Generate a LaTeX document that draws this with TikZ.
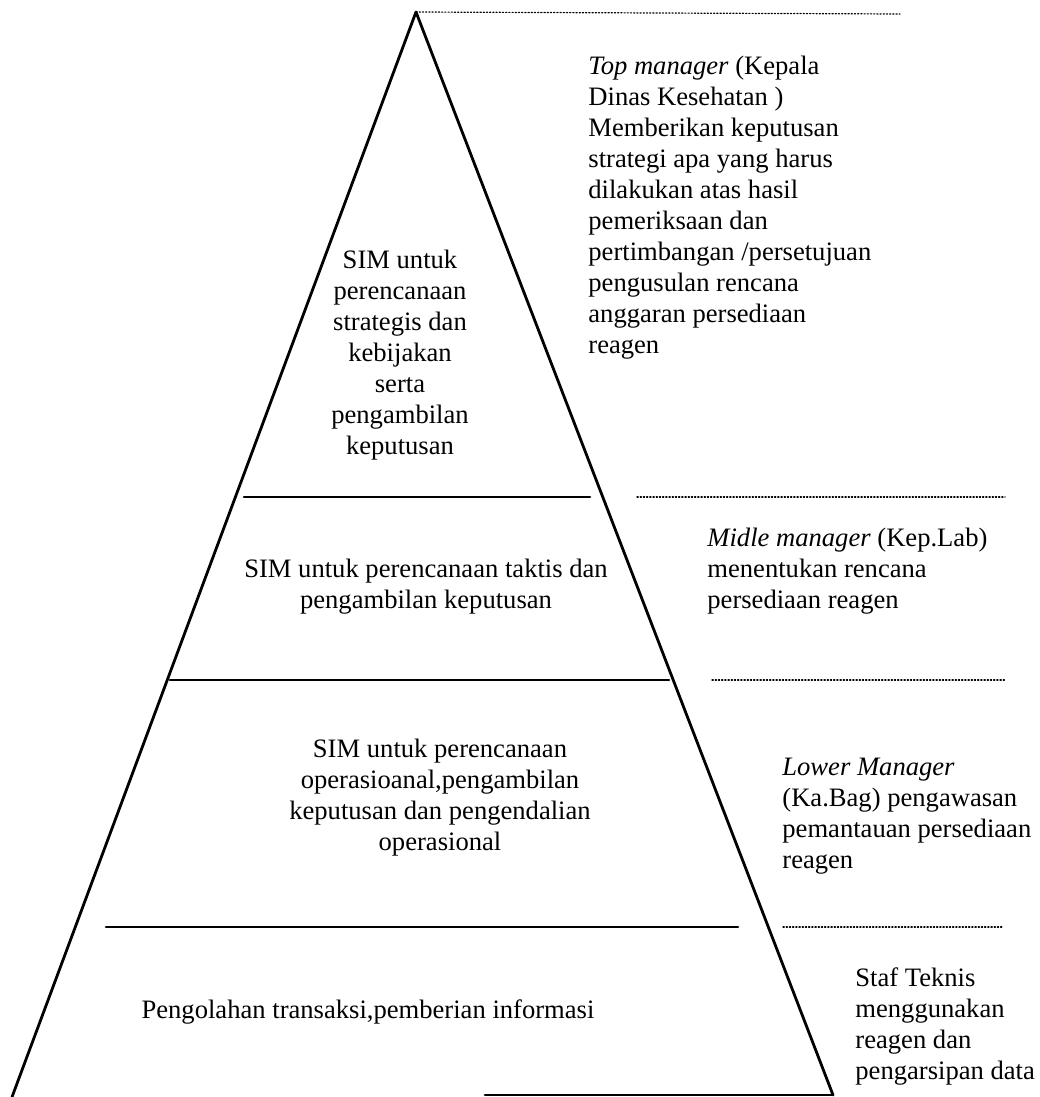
\documentclass[tikz,border=0pt]{standalone}
\usepackage{fontspec}
\setmainfont{Liberation Serif}
\usepackage{tikz}
\usetikzlibrary{calc}

\begin{document}
\begin{tikzpicture}[line cap=round,line join=round,x=0.5pt,y=-0.5pt,
	lvl/.style={align=center,anchor=north,font=\fontsize{13.3}{15.5}\selectfont,inner sep=0pt},
	role/.style={align=left,anchor=north west,font=\fontsize{13.3}{15.5}\selectfont,inner sep=0pt},
	edge/.style={line width=1.4pt},
	sep/.style={line width=1.3pt},
	guide/.style={densely dotted,line width=0.6pt}]
			\useasboundingbox (0,0) rectangle (1039,1097);
			\coordinate (apex) at (416,12);
			\coordinate (bl) at (12,1097);
			\coordinate (br) at (833,1095);
			\draw[edge] (bl) -- (apex) -- (br);
			\draw[edge] (485,1095) -- (br);
			\draw[sep] (244,497) -- (590,497);
			\draw[sep] (170,680) -- (669,680);
			\draw[sep] (106,927) -- (738,927);
			\draw[guide] (apex) -- (900,14);
			\draw[guide] (637,497) -- (1005,497);
			\draw[guide] (712,680) -- (1005,680);
			\draw[guide] (783,927) -- (1002,927);
			\node[lvl] (strat) at (400,250) {SIM untuk\\perencanaan\\strategis dan\\kebijakan\\serta\\pengambilan\\keputusan};
			\node[lvl] (takt) at (426,559) {SIM untuk perencanaan taktis dan\\pengambilan keputusan};
			\node[lvl] (oper) at (440,739) {SIM untuk perencanaan\\operasioanal,pengambilan\\keputusan dan pengendalian\\operasional};
			\node[lvl] (trans) at (368,999) {Pengolahan transaksi,pemberian informasi};
			\node[role] (top) at (588,56) {\textit{Top manager} (Kepala\\Dinas Kesehatan )\\Memberikan keputusan\\strategi apa yang harus\\dilakukan atas hasil\\pemeriksaan dan\\pertimbangan /persetujuan\\pengusulan rencana\\anggaran persediaan\\reagen};
			\node[role] (mid) at (707,528) {\textit{Midle manager} (Kep.Lab)\\menentukan rencana\\persediaan reagen};
			\node[role] (low) at (782,758) {\textit{Lower Manager}\\(Ka.Bag) pengawasan\\pemantauan persediaan\\reagen};
			\node[role] (staf) at (855,967) {Staf Teknis\\menggunakan\\reagen dan\\pengarsipan data};
\end{tikzpicture}
\end{document}
